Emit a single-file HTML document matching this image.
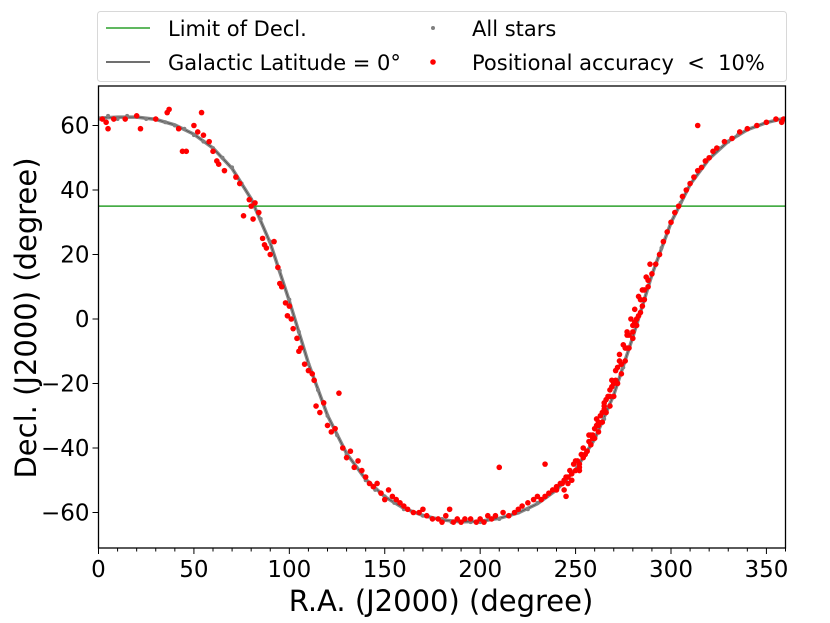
<!DOCTYPE html>
<html><head><meta charset="utf-8"><style>
body{margin:0;background:#fff;}
svg{display:block;font-family:"DejaVu Sans","Liberation Sans",sans-serif;}
</style></head><body>
<svg id="chart" width="830" height="623" viewBox="0 0 830 623">
<g id="plot"></g>
</svg>
<script>
// ---- data ----
const lineRA  = [0,10,20,30,40,50,60,70,80,90,100,110,120,130,140,150,160,170,180,190,200,210,220,230,240,250,260,270,280,290,300,310,320,330,340,350,360];
const lineDec = [62.3,62.6,62.6,61.9,60.2,57.3,53.0,46.7,37.2,23.5,5.6,-13.7,-29.9,-41.7,-49.7,-55.1,-58.7,-60.9,-62.3,-62.9,-62.7,-61.8,-60.1,-57.3,-53.0,-46.7,-37.2,-23.5,-5.6,13.7,29.9,41.7,49.7,55.1,58.7,60.9,62.3];
const grayRA  = [0,5,10,15,20,25,30,35,40,45,50,55,60,65,70,75,80,85,90,95,100,105,110,115,120,125,130,135,140,145,150,155,160,165,170,175,180,185,190,195,200,205,210,215,220,225,230,235,240,245,250,255,260,265,270,275,280,285,290,295,300,305,310,315,320,325,330,335,340,345,350,355,359];
const grayDec = [62,63,62,63,63,62,62,61,60,59,57,55,53,50,47,42,37,31,24,15,6,-4,-14,-22,-30,-36,-42,-46,-50,-53,-55,-57,-59,-60,-61,-62,-62,-63,-63,-63,-63,-62,-62,-61,-60,-59,-57,-55,-53,-50,-47,-42,-37,-31,-24,-15,-6,4,14,22,30,36,42,46,50,53,55,57,59,60,61,62,62];
const redRA  = [2,4,5,8,14,20,22,30,36,37,42,44,46,50,52,54,55,58,60,62,63,66,72,74,76,79,80,81,82,84,86,87,88,90,92,94,95,96,98,99,100,101,102,104,105,106,108,110,112,113,114,116,118,120,122,124,126,128,130,132,134,136,138,140,142,144,146,148,150,152,154,156,158,160,162,165,168,170,172,175,178,180,182,184,186,188,190,192,195,198,200,202,204,206,208,210,212,215,218,220,222,225,228,230,
 232,234,236,238,240,242,244,245,246,248,250,252,254,256,258,260,262,264,266,268,270,272,274,276,278,280,282,284,286,288,290,292,294,296,298,300,302,304,306,308,310,312,314,316,318,320,322,324,328,332,336,340,345,350,355,358,359,
 240,243,247,249,251,253,255,257,259,261,263,265,267,269,271,273,275,277,279,281,283,285,287,289,246,250,254,258,262,266,270,274,278,282,286,252,256,260,264,268,272,276,280,284,288,257,261,265,269,273,277,281,285,314,234,245,
 244,248,252,255,259,262,265,268,271,274,277,280,283,286];
const redDec = [62,61,59,62,62,63,59,62,64,65,59,52,52,60,58,64,57,55,52,49,48,46,44,42,32,37,35,31,36,33,25,23,22,20,24,16,11,10,5,1,4,0,-3,-6,-10,-9,-14,-16,-17,-19,-27,-29,-26,-33,-35,-34,-23,-40,-43,-41,-46,-44,-47,-49,-51,-52,-51,-54,-56,-53,-55,-56,-57,-58,-59,-60,-60,-59,-61,-62,-62,-63,-61,-59,-63,-62,-63,-62,-62,-63,-62,-63,-61,-62,-61,-46,-60,-61,-60,-59,-58,-57,-56,-55,
 -56,-55,-54,-53,-53,-51,-50,-49,-49,-48,-47,-45,-43,-41,-39,-37,-35,-32,-29,-27,-24,-20,-17,-13,-9,-6,-2,2,6,10,14,17,20,24,27,30,33,35,38,40,42,44,46,47,49,50,52,53,55,56,58,59,60,61,62,61,62,
 -52,-51,-47,-45,-44,-42,-42,-38,-36,-33,-30,-27,-24,-21,-16,-13,-8,-5,0,3,7,9,13,17,-51,-44,-40,-36,-32,-25,-20,-14,-5,0,9,-47,-41,-34,-29,-22,-15,-9,-2,6,12,-36,-31,-26,-19,-11,-4,-1,4,60,-45,-55,
 -53,-50,-46,-42,-37,-33,-28,-24,-19,-14,-9,-4,1,6];
const xTicks = [0,50,100,150,200,250,300,350];
const yTicks = [-60,-40,-20,0,20,40,60];
const declLimit = 35;
// ---- axes ----
const L=98.5,R=785.5,T=86,B=548;
const x=v=>L+v*(R-L)/360;
const y=v=>319-v*3.225;
const NS="http://www.w3.org/2000/svg";
const plot=document.getElementById('plot');
function mk(tag,attrs,parent){const e=document.createElementNS(NS,tag);for(const k in attrs)e.setAttribute(k,attrs[k]);(parent||plot).appendChild(e);return e;}
const defs=mk('defs',{});const cp=mk('clipPath',{id:'cp'},defs);mk('rect',{x:L,y:T,width:R-L,height:B-T},cp);
const g=mk('g',{'clip-path':'url(#cp)'});


let d='';lineRA.forEach((r,i)=>{d+=(i?'L':'M')+x(r).toFixed(1)+','+y(lineDec[i]).toFixed(1);});
const band=mk('path',{d:d,fill:'none',stroke:'#888888','stroke-width':3.5},g);


const gl=mk('path',{d:d,fill:'none',stroke:'#505050','stroke-width':0.8},g);


grayRA.forEach((r,i)=>{const c=mk('circle',{cx:x(r),cy:y(grayDec[i]),r:2,fill:'#808080'},g);

});
const dl=mk('line',{x1:L,x2:R,y1:y(declLimit),y2:y(declLimit),stroke:'#2ca02c','stroke-width':1.5},g);


redRA.forEach((r,i)=>{const c=mk('circle',{cx:x(r),cy:y(redDec[i]),r:2.8,fill:'#ff0000'},g);

});
const fr=mk('rect',{x:L,y:T,width:R-L,height:B-T,fill:'none',stroke:'#000','stroke-width':1.3});


for(let v=0;v<=360;v+=10){const m=v%50===0;mk('line',{x1:x(v),x2:x(v),y1:B,y2:B+(m?6:3.5),stroke:'#000','stroke-width':1});}
xTicks.forEach(v=>{const t=mk('text',{x:x(v),y:B+29,'font-size':23,'text-anchor':'middle'});t.textContent=v;

});
yTicks.forEach(v=>{mk('line',{x1:L-6,x2:L,y1:y(v),y2:y(v),stroke:'#000','stroke-width':1});
const t=mk('text',{x:L-9,y:y(v)+8,'font-size':23,'text-anchor':'end'});t.textContent=v<0?'\u2212'+(-v):v;

});
const xt=mk('text',{x:(L+R)/2-1,y:611,'font-size':29,'text-anchor':'middle'});xt.textContent='R.A. (J2000) (degree)';


const yt=mk('text',{x:0,y:0,'font-size':29,'text-anchor':'middle',transform:'translate(36,318) rotate(-90)'});yt.textContent='Decl. (J2000) (degree)';


const lg=mk('g',{});


mk('rect',{x:97.5,y:11.5,width:689,height:70,rx:3,fill:'#fff',stroke:'#d8d8d8'},lg);
mk('line',{x1:106,x2:150,y1:28,y2:28,stroke:'#2ca02c','stroke-width':1.5},lg);
mk('line',{x1:106,x2:150,y1:62,y2:62,stroke:'#404040','stroke-width':1.5},lg);
mk('circle',{cx:433,cy:28,r:2,fill:'#808080'},lg);
mk('circle',{cx:433,cy:62,r:2.8,fill:'#ff0000'},lg);
[['Limit of Decl.',168,36,'legend-entry-decl-limit'],['Galactic Latitude = 0\u00b0',168,70,'legend-entry-galactic-line'],['All stars',472,36,'legend-entry-all-stars'],['Positional accuracy \u00a0< \u00a010%',472,70,'legend-entry-accurate-stars']].forEach(a=>{
const t=mk('text',{x:a[1],y:a[2],'font-size':21},lg);t.textContent=a[0];

});
</script>
</body></html>
